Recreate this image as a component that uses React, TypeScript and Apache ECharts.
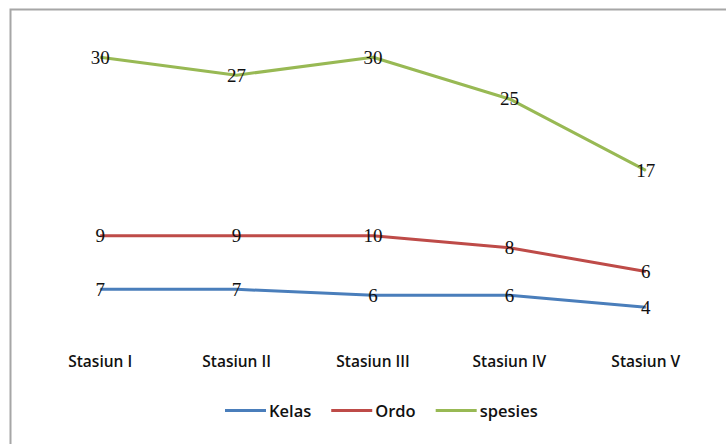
import React, { useEffect, useRef } from "react";
import * as echarts from "echarts";

const categories = ["Stasiun I", "Stasiun II", "Stasiun III", "Stasiun IV", "Stasiun V"];
const kelas = [7, 7, 6, 6, 4];
const ordo = [9, 9, 10, 8, 6];
const spesies = [30, 27, 30, 25, 17];

const colors = { kelas: "#4a7ebb", ordo: "#be4b48", spesies: "#98b954" };

function lineSeries(name: string, data: number[], color: string) {
  return {
    name,
    type: "line",
    stack: "total",
    data,
    symbol: "circle",
    symbolSize: 1,
    lineStyle: { color, width: 3 },
    itemStyle: { color },
    label: {
      show: true,
      position: "inside",
      color: "#111111",
      fontFamily: "'Liberation Serif', serif",
      fontSize: 19,
    },
    emphasis: { disabled: true },
  };
}

export default function App() {
  const ref = useRef<HTMLDivElement>(null);

  useEffect(() => {
    if (!ref.current) return;
    const chart = echarts.init(ref.current, null, { renderer: "svg" });
    chart.setOption({
      animation: false,
      backgroundColor: "#ffffff",
      graphic: [
        {
          type: "rect",
          shape: { x: 10.5, y: 9.5, width: 740, height: 460 },
          style: { fill: "none", stroke: "#a6a6a6", lineWidth: 2 },
          silent: true,
        },
      ],
      grid: { left: 32, right: 12, top: 33.5, bottom: 113 },
      xAxis: {
        type: "category",
        data: categories,
        boundaryGap: true,
        axisLine: { show: false },
        axisTick: { show: false },
        axisLabel: {
          margin: 22,
          color: "#111111",
          fontFamily: "'Open Sans', sans-serif",
          fontWeight: 600,
          fontSize: 15.5,
        },
      },
      yAxis: {
        type: "value",
        min: 0,
        max: 50,
        show: false,
        splitLine: { show: false },
      },
      legend: {
        bottom: 20,
        left: 220,
        icon: "rect",
        itemWidth: 41,
        itemHeight: 3,
        itemGap: 20,
        textStyle: {
          color: "#111111",
          fontFamily: "'Open Sans', sans-serif",
          fontWeight: 600,
          fontSize: 16.5,
          padding: [0, 0, 0, -2],
        },
        data: ["Kelas", "Ordo", "spesies"],
      },
      series: [
        lineSeries("Kelas", kelas, colors.kelas),
        lineSeries("Ordo", ordo, colors.ordo),
        lineSeries("spesies", spesies, colors.spesies),
      ],
    });
    return () => chart.dispose();
  }, []);

  return <div ref={ref} style={{ width: 726, height: 444, position: "absolute", left: 0, top: 0 }} />;
}
